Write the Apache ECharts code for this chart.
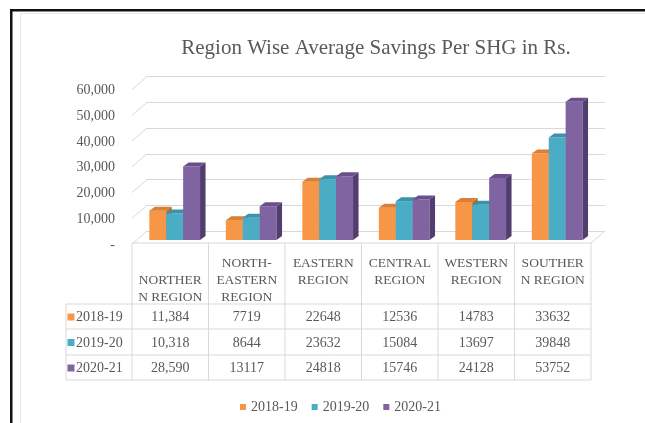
<!DOCTYPE html>
<html><head><meta charset="utf-8">
<script src="https://cdn.jsdelivr.net/npm/echarts@6/dist/echarts.min.js"></script>
<style>html,body{margin:0;padding:0;background:#fff}#c{width:645px;height:423px}</style>
</head><body><div id="c"></div>
<script>
// ---- data ----
const title = 'Region Wise Average Savings Per SHG in Rs.';
const categories = ['NORTHER\nN REGION', 'NORTH-\nEASTERN\nREGION', 'EASTERN\nREGION', 'CENTRAL\nREGION', 'WESTERN\nREGION', 'SOUTHER\nN REGION'];
const seriesNames = ['2018-19', '2019-20', '2020-21'];
const values2018 = [11384, 7719, 22648, 12536, 14783, 33632];
const values2019 = [10318, 8644, 23632, 15084, 13697, 39848];
const values2020 = [28590, 13117, 24818, 15746, 24128, 53752];
const yTicks = [0, 10000, 20000, 30000, 40000, 50000, 60000];
const tableUsesComma = [true, false, false, false, false, false];

// ---- styling / layout ----
const FONTNAME = 'Liberation Serif';
const TXT = '#595959';
const GRIDC = '#D9D9D9';
const palette = [
  {front: '#F79646', side: '#B8692A', top: '#D97F36'},
  {front: '#4BACC6', side: '#2F7F95', top: '#3A93AB'},
  {front: '#8064A2', side: '#523E6E', top: '#6A4F8C'}
];
const G = {left: 132, right: 54, top: 85.6, bottom: 183};
const plotW = 645 - G.left - G.right;
const band = plotW / categories.length;
const BACK = {dx: 14, dy: -9};

const allValues = [values2018, values2019, values2020];

function barRender(si) {
  return function (params, api) {
    const c = api.value(0), v = api.value(1);
    const p = api.coord([c, v]);
    const b = api.coord([c, 0]);
    const bw = band * 0.221;
    const cx = p[0] + band * 0.058 + (si - 1) * bw;
    const x0 = cx - bw / 2, x1 = cx + bw / 2;
    const yt = p[1], yb = b[1];
    const dx = 5.5, dy = 4;
    const col = palette[si];
    return {type: 'group', children: [
      {type: 'rect', shape: {x: x0, y: yt, width: bw, height: yb - yt}, style: {fill: col.front}},
      {type: 'polygon', shape: {points: [[x1, yt], [x1 + dx, yt - dy], [x1 + dx, yb - dy], [x1, yb]]}, style: {fill: col.side}},
      {type: 'polygon', shape: {points: [[x0, yt], [x1, yt], [x1 + dx, yt - dy], [x0 + dx, yt - dy]]}, style: {fill: col.top}}
    ]};
  };
}

function gridDiagRender(params, api) {
  const v = api.value(1);
  const p = api.coord([0, v]);
  const cs = params.coordSys;
  const children = [{type: 'line', shape: {x1: cs.x, y1: p[1] + 4, x2: cs.x + BACK.dx + 1, y2: p[1] + BACK.dy}, style: {stroke: GRIDC, lineWidth: 1}}];
  if (v === 0) {
    children.push({type: 'line', shape: {x1: cs.x + cs.width, y1: p[1] + 3, x2: cs.x + cs.width + BACK.dx, y2: p[1] + BACK.dy}, style: {stroke: GRIDC, lineWidth: 1}});
  }
  return {type: 'group', children};
}

// ---- table graphics ----
const graphics = [];
// frame
graphics.push({type: 'line', shape: {x1: 20.5, y1: 13.5, x2: 20.5, y2: 423}, style: {stroke: '#E8E8E8', lineWidth: 1}, silent: true});
graphics.push({type: 'line', shape: {x1: 20.5, y1: 13.5, x2: 645, y2: 13.5}, style: {stroke: '#E8E8E8', lineWidth: 1}, silent: true});
graphics.push({type: 'rect', shape: {x: 10, y: 9, width: 640, height: 2.5}, style: {fill: '#111'}, silent: true});
graphics.push({type: 'rect', shape: {x: 10, y: 9, width: 2.5, height: 420}, style: {fill: '#111'}, silent: true});
// title
graphics.push({type: 'text', x: 376, y: 48, style: {text: title, font: '21px "' + FONTNAME + '"', fill: TXT, textAlign: 'center', textVerticalAlign: 'middle'}, silent: true});

const tTop = 243, rowY = [304, 329, 355, 380], legX = 66;
const xs = categories.map((_, i) => G.left + i * band);
xs.push(G.left + plotW);
function hline(x1, x2, y) { graphics.push({type: 'line', shape: {x1, y1: y, x2, y2: y}, style: {stroke: GRIDC, lineWidth: 1}, silent: true}); }
function vline(x, y1, y2) { graphics.push({type: 'line', shape: {x1: x, y1, x2: x, y2}, style: {stroke: GRIDC, lineWidth: 1}, silent: true}); }
hline(xs[0], xs[xs.length - 1], tTop);
rowY.forEach(y => hline(legX, xs[xs.length - 1], y));
xs.forEach(x => vline(x, tTop, rowY[3]));
vline(legX, rowY[0], rowY[3]);
// header labels
const headerLineShift = [1, 0, 0, 0, 0, 0];
categories.forEach((c, i) => {
  graphics.push({type: 'text', x: xs[i] + band / 2, y: 254.5 + headerLineShift[i] * 17,
    style: {text: c, font: '13.5px "' + FONTNAME + '"', fill: TXT, textAlign: 'center', textVerticalAlign: 'top', lineHeight: 17}, silent: true});
});
// rows
function fmt(v, i) { return tableUsesComma[i] ? v.toLocaleString('en-US') : String(v); }
allValues.forEach((vals, r) => {
  const yc = (rowY[r] + rowY[r + 1]) / 2 + 1;
  graphics.push({type: 'rect', shape: {x: 67.5, y: yc - 4, width: 7, height: 7}, style: {fill: palette[r].front}, silent: true});
  graphics.push({type: 'text', x: 76, y: yc, style: {text: seriesNames[r], font: '14px "' + FONTNAME + '"', fill: TXT, textAlign: 'left', textVerticalAlign: 'middle'}, silent: true});
  vals.forEach((v, i) => {
    graphics.push({type: 'text', x: xs[i] + band / 2, y: yc, style: {text: fmt(v, i), font: '14px "' + FONTNAME + '"', fill: TXT, textAlign: 'center', textVerticalAlign: 'middle'}, silent: true});
  });
});

const chart = echarts.init(document.getElementById('c'));
chart.setOption({
  animation: false,
  backgroundColor: '#fff',
  textStyle: {fontFamily: FONTNAME},
  grid: [
    {left: G.left, right: G.right, top: G.top, bottom: G.bottom},
    {left: G.left + BACK.dx, right: G.right - BACK.dx, top: G.top + BACK.dy, bottom: G.bottom - BACK.dy}
  ],
  xAxis: [
    {type: 'category', gridIndex: 0, data: categories, axisLine: {show: false}, axisTick: {show: false}, axisLabel: {show: false}, splitLine: {show: false}},
    {type: 'value', gridIndex: 1, show: false, min: 0, max: 1}
  ],
  yAxis: [
    {type: 'value', gridIndex: 0, min: yTicks[0], max: yTicks[yTicks.length - 1], interval: yTicks[1] - yTicks[0],
      axisLine: {show: false}, axisTick: {show: false}, splitLine: {show: false},
      axisLabel: {margin: 17, color: TXT, fontFamily: FONTNAME, fontSize: 14, verticalAlign: 'top', lineHeight: 10,
        formatter: v => v === 0 ? '-' : v.toLocaleString('en-US')}},
    {type: 'value', gridIndex: 1, min: yTicks[0], max: yTicks[yTicks.length - 1], interval: yTicks[1] - yTicks[0],
      axisLine: {show: false}, axisTick: {show: false}, axisLabel: {show: false},
      splitLine: {show: true, lineStyle: {color: GRIDC, width: 1}}}
  ],
  legend: {
    data: seriesNames, bottom: 4, left: 235, icon: 'rect', itemWidth: 6, itemHeight: 6, itemGap: 14,
    textStyle: {color: TXT, fontFamily: FONTNAME, fontSize: 14}
  },
  graphic: graphics,
  series: [
    {type: 'custom', xAxisIndex: 0, yAxisIndex: 0, silent: true, z: 1,
      data: yTicks.map(v => [0, v]), encode: {x: 0, y: 1}, renderItem: gridDiagRender},
    ...allValues.map((vals, si) => ({
      type: 'custom', name: seriesNames[si], xAxisIndex: 0, yAxisIndex: 0, z: 3,
      itemStyle: {color: palette[si].front},
      data: vals.map((v, i) => [i, v]), encode: {x: 0, y: 1}, renderItem: barRender(si)
    }))
  ]
});
</script>
</body></html>
